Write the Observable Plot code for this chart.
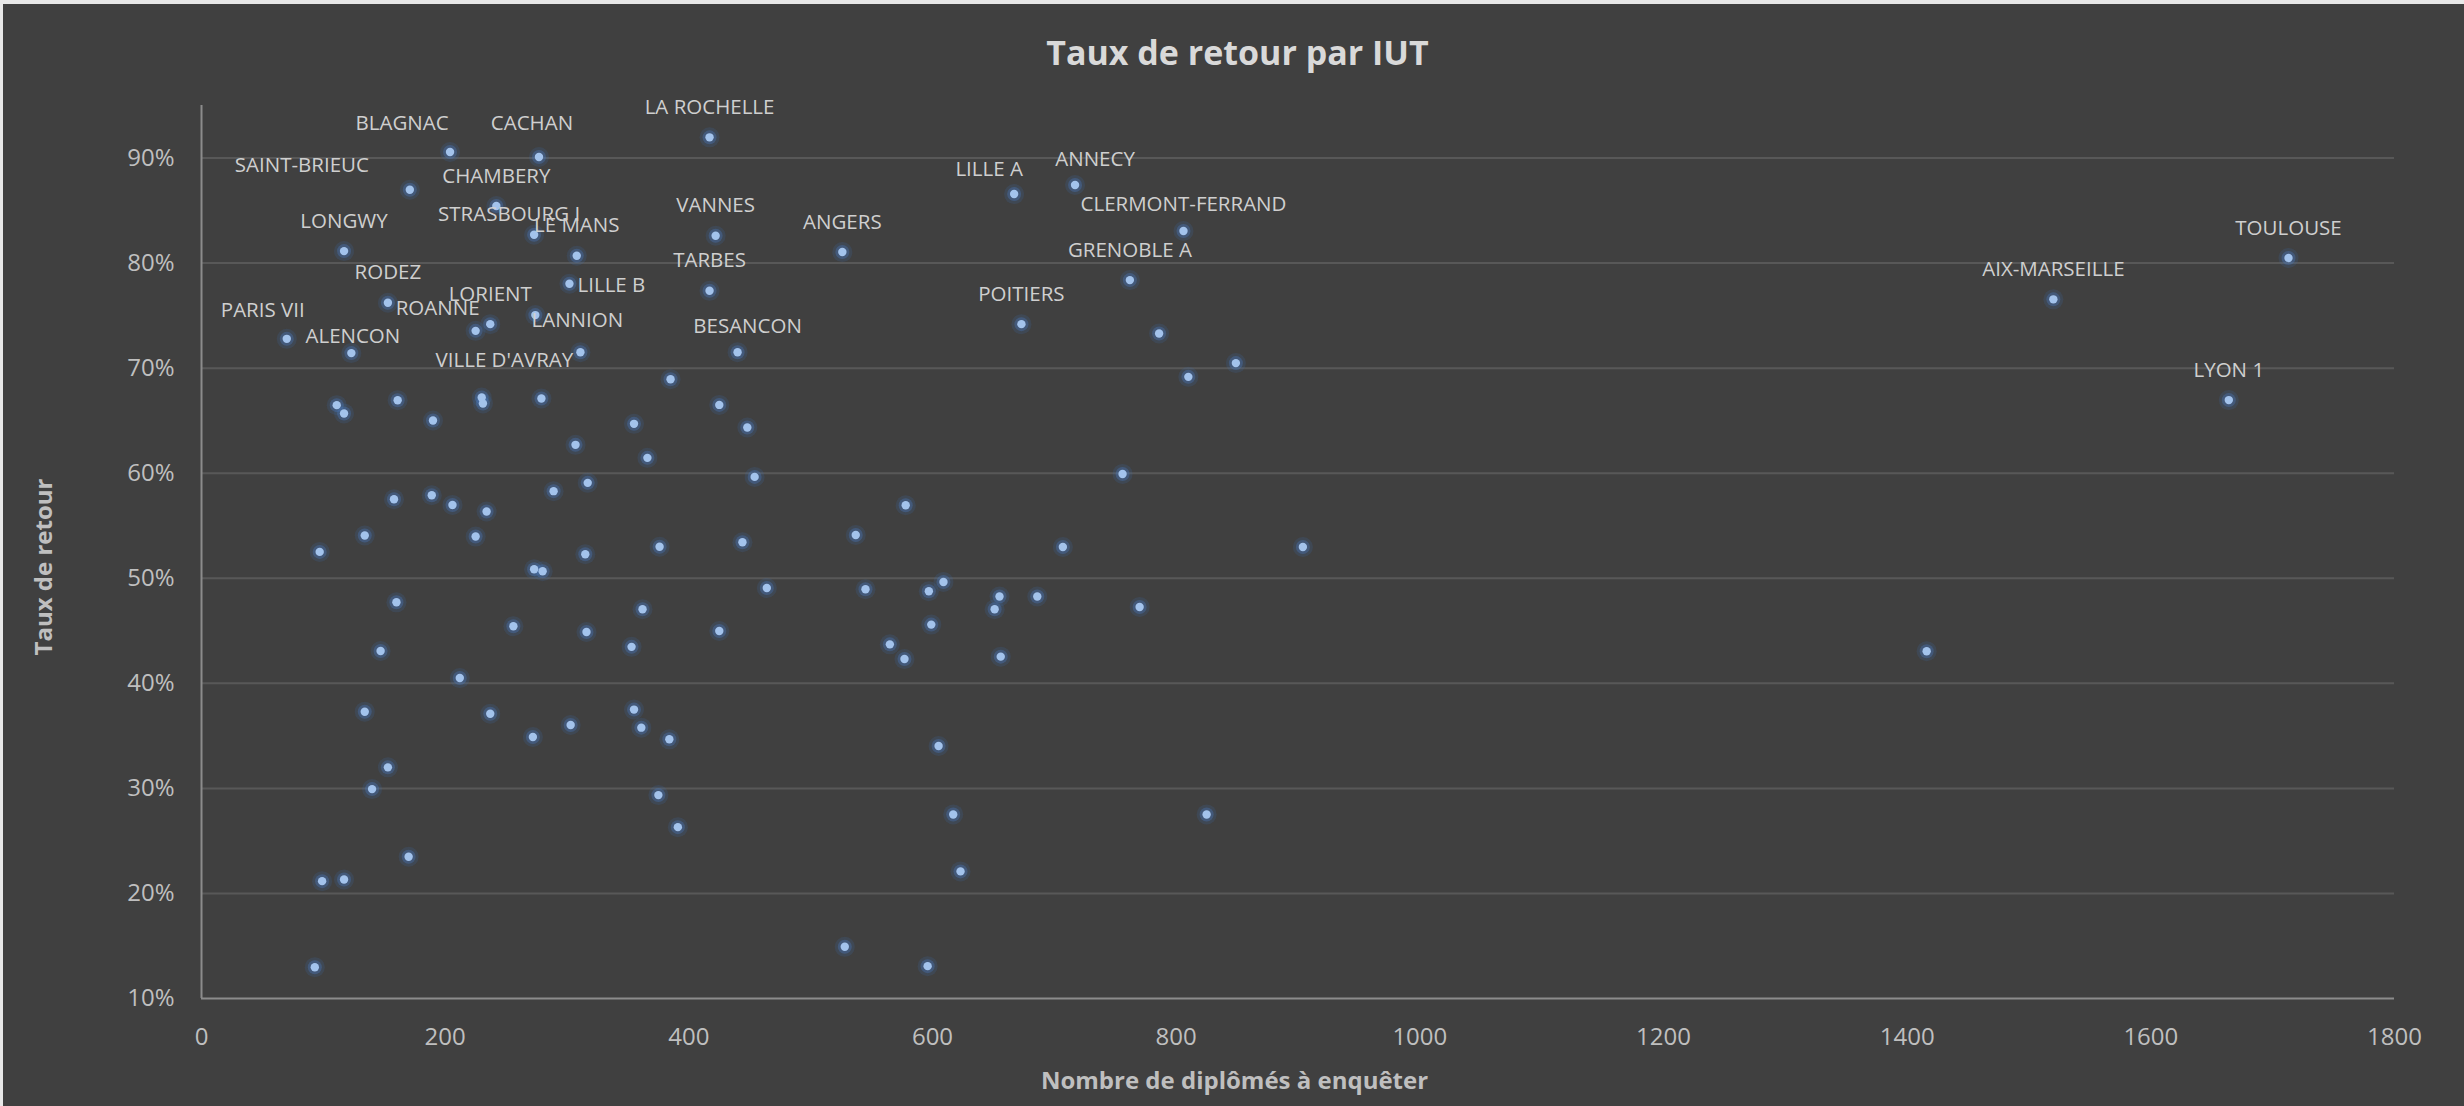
<!DOCTYPE html>
<html><head><meta charset="utf-8">
<script src="https://cdn.jsdelivr.net/npm/d3@7"></script>
<script src="https://cdn.jsdelivr.net/npm/@observablehq/plot@0.6"></script>
<style>
html,body{margin:0;padding:0;background:#e8e8e8;}
#chart{position:absolute;left:3px;top:4px;width:2461px;height:1102px;background:#404040;overflow:hidden;font-family:"Open Sans",sans-serif;}
#title{height:80px;box-sizing:border-box;padding-top:26px;padding-left:8px;text-align:center;font-weight:700;font-size:34px;line-height:44px;color:#d9d9d9;}
</style></head><body>
<div id="chart"><div id="title">Taux de retour par IUT</div></div>
<script>
// IUT names ("" = point without label)
const names = [
  "BLAGNAC","CACHAN","LA ROCHELLE","SAINT-BRIEUC","CHAMBERY","LILLE A","ANNECY","STRASBOURG I","LE MANS","VANNES",
  "ANGERS","CLERMONT-FERRAND","TOULOUSE","LONGWY","TARBES","GRENOBLE A","RODEZ","LILLE B","AIX-MARSEILLE","LORIENT",
  "POITIERS","PARIS VII","ROANNE","LANNION","BESANCON","ALENCON","VILLE D'AVRAY","LYON 1",
  "","","","","","","","","","",
  "","","","","","","","","","",
  "","","","","","","","","","",
  "","","","","","","","","","",
  "","","","","","","","","","",
  "","","","","","","","","","",
  "","","","","","","","","","",
  "","","","","","","",""
];
// Nombre de diplômés à enquêter
const diplomes = [
  204,277,417,171,242,667,717,273,308,422,
  526,806,1713,117,417,762,153,302,1520,237,
  673,70,225,274,440,123,311,1664,
  786,849,810,385,425,111,117,161,230,231,
  279,190,355,448,307,366,454,756,317,289,
  158,189,206,234,578,537,134,225,376,444,
  707,904,97,315,273,280,464,545,597,609,
  655,686,651,770,160,362,256,316,425,599,
  353,565,147,577,656,1416,212,134,237,355,
  303,361,272,384,605,153,140,375,617,825,
  391,170,623,99,117,528,596,93
];
// Taux de retour (%)
const taux = [
  90.57,90.10,91.97,86.98,85.43,86.57,87.43,82.70,80.70,82.60,
  81.05,83.05,80.49,81.14,77.36,78.38,76.22,78.03,76.55,74.19,
  74.19,72.79,73.55,75.05,71.52,71.43,71.52,66.96,
  73.30,70.48,69.17,68.95,66.50,66.48,65.69,66.95,67.21,66.64,
  67.11,65.02,64.70,64.35,62.70,61.46,59.65,59.93,59.08,58.29,
  57.52,57.90,56.98,56.35,56.95,54.12,54.07,53.97,53.00,53.43,
  52.98,52.98,52.51,52.29,50.86,50.67,49.07,48.95,48.76,49.65,
  48.26,48.26,47.05,47.27,47.71,47.05,45.43,44.89,44.98,45.59,
  43.47,43.71,43.08,42.31,42.54,43.06,40.50,37.30,37.10,37.50,
  36.03,35.78,34.89,34.67,34.03,32.00,29.93,29.36,27.52,27.52,
  26.31,23.49,22.10,21.17,21.33,14.92,13.08,12.98
];
const xTicks = [0,200,400,600,800,1000,1200,1400,1600,1800];
const yTicks = [10,20,30,40,50,60,70,80,90];

// label placement (pixel offsets from the point, like the hand-moved Excel labels)
const defaultOffset = [0,-30];
const labelOffsets = {
  "BLAGNAC":[-48,-29], "CACHAN":[-7,-34], "SAINT-BRIEUC":[-108,-24.5], "STRASBOURG I":[-25,-20],
  "ROANNE":[-38,-22], "PARIS VII":[-24,-28], "ALENCON":[1.5,-17], "VILLE D'AVRAY":[-76,8.5],
  "LILLE B":[42,2], "LANNION":[42,5], "BESANCON":[10,-26], "LILLE A":[-25,-25],
  "ANNECY":[20,-26], "CLERMONT-FERRAND":[0,-26.5]
};

const data = diplomes.map((d,i)=>({name:names[i], x:d, y:taux[i]}));
const labeled = data.filter(d=>d.name);

const labelMarks = labeled.map(d=>{
  const o = labelOffsets[d.name] || defaultOffset;
  return Plot.text([d], {x:"x", y:"y", text:"name", dx:o[0], dy:o[1], fill:"#cfcfcf", fontSize:20.5});
});

const plot = Plot.plot({
  width: 2461, height: 1022,
  marginTop: 21, marginBottom: 108, marginLeft: 198, marginRight: 70,
  style: {background:"#404040", color:"#bfbfbf", fontFamily:"'Open Sans', sans-serif", fontSize:"24px", overflow:"visible"},
  x: {domain:[0,1800], ticks:xTicks, tickFormat:d=>String(d), tickSize:0, tickPadding:29, label:null},
  y: {domain:[10,95], ticks:yTicks, tickFormat:d=>d+"%", tickSize:0, tickPadding:27, label:null},
  marks: [
    Plot.ruleY(yTicks.filter(t=>t>10), {stroke:"#585858", strokeWidth:2}),
    Plot.ruleX([0], {stroke:"#8c8c8c", strokeWidth:2}),
    Plot.ruleY([10], {stroke:"#8c8c8c", strokeWidth:2}),
    Plot.dot(data, {x:"x", y:"y", r:10, fill:"#3e6eb0", fillOpacity:0.18, stroke:"none"}),
    Plot.dot(data, {x:"x", y:"y", r:7, fill:"#4a7cc4", fillOpacity:0.35, stroke:"none"}),
    Plot.dot(data, {x:"x", y:"y", r:4.2, fill:"#a3c3ec", stroke:"none"}),
    ...labelMarks,
    Plot.text(["Taux de retour"], {frameAnchor:"left", text:d=>d, rotate:-90, dx:-157, dy:15, textAnchor:"middle", lineAnchor:"middle", fontSize:24, fontWeight:"bold", fill:"#bfbfbf"}),
    Plot.text(["Nombre de diplômés à enquêter"], {frameAnchor:"bottom", text:d=>d, dx:-63.5, dy:83, textAnchor:"middle", lineAnchor:"middle", fontSize:24, fontWeight:"bold", fill:"#bfbfbf"})
  ]
});
document.getElementById("chart").appendChild(plot);
</script>
</body></html>
